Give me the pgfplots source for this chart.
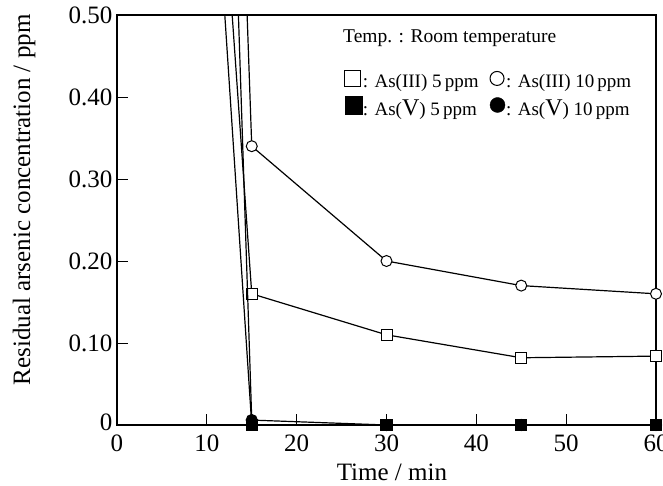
\documentclass[border=0pt]{standalone}
\usepackage{fontspec}
\setmainfont{Liberation Serif}
\usepackage{pgfplots}
\pgfplotsset{compat=1.18}
\newcommand{\ticksize}{\fontsize{25}{29}\selectfont}
\begin{document}
\begin{tikzpicture}
\begin{axis}[
  at={(0,0)}, anchor=south west,
  scale only axis, width=539pt, height=410pt,
  xmin=0, xmax=60, ymin=0, ymax=0.5,
  xtick={0,10,20,30,40,50,60},
  xticklabel={\ticksize\pgfmathprintnumber{\tick}},
  ytick={0,0.1,0.2,0.3,0.4,0.5},
  yticklabels={\raisebox{6pt}{0},0.10,0.20,0.30,0.40,\raisebox{-5pt}{0.50}},
  /pgf/number format/assume math mode=true,
  tick pos=left, tick align=inside, major tick length=11pt,
  tick style={line width=1pt, black},
  axis line style={line width=1.5pt},
  xticklabel style={yshift=-6pt},
  yticklabel style={font=\ticksize, xshift=-1pt},
  xlabel={Time / min},
  ylabel={Residual arsenic concentration / ppm},
  label style={font=\fontsize{25}{30}\selectfont},
  xlabel style={at={(axis description cs:0.51,-0.136)}, anchor=base},
  ylabel style={at={(axis description cs:-0.1725,0.549)}, anchor=center},
  clip mode=individual,
  legend columns=2,
  legend cell align=left,
  legend style={at={(axis cs:25.3,0.433)}, anchor=north west, draw=none, fill=none,
    inner sep=0pt, outer sep=0pt, row sep=6pt,
    font=\fontsize{19}{22}\selectfont,
    nodes={inner sep=1pt},
    /tikz/every even column/.append style={column sep=10pt}},
]
% As(III) 5 ppm
\addplot[black, line width=1.2pt, mark=square*, mark indices={1,2,3,4},
  mark options={fill=white, line width=1pt}, mark size=5.5pt, forget plot]
  coordinates {(0,2.5) (15,0.16) (30,0.11) (45,0.082) (60,0.084)};
% As(III) 10 ppm
\addplot[black, line width=1.2pt, mark=*, mark indices={1,2,3,4},
  mark options={fill=white, line width=1pt}, mark size=5.5pt, forget plot]
  coordinates {(0,5) (15,0.34) (30,0.20) (45,0.17) (60,0.16)};
% As(V) 10 ppm
\addplot[black, line width=1.2pt, mark=*, mark indices={1,2,3,4},
  mark options={fill=black}, mark size=5.5pt, forget plot]
  coordinates {(0,5) (15,0.006) (30,0) (45,0) (60,0)};
% As(V) 5 ppm
\addplot[black, line width=1.2pt, mark=square*, mark indices={1,2,3,4},
  mark options={fill=black}, mark size=5.5pt, forget plot]
  coordinates {(0,2.5) (15,0) (30,0) (45,0) (60,0)};

\addlegendimage{legend image code/.code={\draw[black, line width=1pt, fill=white] (0pt,-5pt) rectangle (16pt,11pt);}}
\addlegendentry{: As(III) 5\,ppm}
\addlegendimage{legend image code/.code={\draw[black, line width=1pt, fill=white] (7pt,3pt) circle (7pt);}}
\addlegendentry{: As(III) 10\,ppm}
\addlegendimage{legend image code/.code={\fill[black] (0pt,-6pt) rectangle (17pt,12pt);}}
\addlegendentry{: As({\fontsize{24}{24}\selectfont V}) 5\,ppm}
\addlegendimage{legend image code/.code={\fill[black] (7.5pt,3pt) circle (7.5pt);}}
\addlegendentry{: As({\fontsize{24}{24}\selectfont V}) 10\,ppm}

\node[anchor=base west, font=\fontsize{19.5}{23}\selectfont, inner sep=0pt]
  at (axis cs:25.16,0.467) {Temp. : Room temperature};
\end{axis}
\pgfresetboundingbox
\path (-117pt,-60pt) rectangle (546pt,425pt);
\end{tikzpicture}
\end{document}
